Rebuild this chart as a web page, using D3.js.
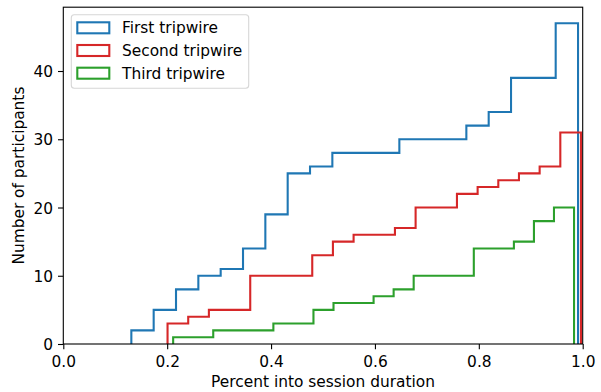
<!DOCTYPE html>
<html>
<head>
<meta charset="utf-8">
<script src="https://cdn.jsdelivr.net/npm/d3@7"></script>
<style>
  html, body { margin: 0; padding: 0; background: #fff; }
  svg { display: block; }
  text { font-family: "DejaVu Sans", sans-serif; fill: #000; }
</style>
</head>
<body>
<svg id="chart" width="601" height="392"></svg>
<script>
// Series names and colours
const seriesNames = ["First tripwire", "Second tripwire", "Third tripwire"];
const seriesColors = ["#1f77b4", "#d62728", "#2ca02c"];

// Each series: 20 equal-width bins between its own min and max, cumulative counts
const firstRange = [0.131, 0.991];
const firstCounts = [2, 5, 8, 10, 11, 14, 19, 25, 26, 28, 28, 28, 30, 30, 30, 32, 34, 39, 39, 47];

const secondRange = [0.2007, 0.9967];
const secondCounts = [3, 4, 5, 5, 10, 10, 10, 13, 15, 16, 16, 17, 20, 20, 22, 23, 24, 25, 26, 31];

const thirdRange = [0.2115, 0.9833];
const thirdCounts = [1, 1, 2, 2, 2, 3, 3, 5, 6, 6, 7, 8, 10, 10, 10, 14, 14, 15, 18, 20];

// Axis ticks
const xTicks = [0.0, 0.2, 0.4, 0.6, 0.8, 1.0];
const yTicks = [0, 10, 20, 30, 40];

const xLabel = "Percent into session duration";
const yLabel = "Number of participants";

const FS = 15.4;
const svg = d3.select("#chart");

const x = d3.scaleLinear().domain([0, 1]).range([63.3, 582.7]);
const yMax = d3.max([firstCounts, secondCounts, thirdCounts].flat()) * 1.05;
const y = d3.scaleLinear().domain([0, yMax]).range([344, 7.2]);

const series = [
  { name: seriesNames[0], color: seriesColors[0], range: firstRange, counts: firstCounts },
  { name: seriesNames[1], color: seriesColors[1], range: secondRange, counts: secondCounts },
  { name: seriesNames[2], color: seriesColors[2], range: thirdRange, counts: thirdCounts }
];

function stepPoints(s) {
  const n = s.counts.length;
  const w = (s.range[1] - s.range[0]) / n;
  const pts = [[s.range[0], 0]];
  s.counts.forEach((c, i) => {
    pts.push([s.range[0] + i * w, c]);
    pts.push([s.range[0] + (i + 1) * w, c]);
  });
  pts.push([s.range[1], 0]);
  return pts;
}

const line = d3.line().x(d => x(d[0])).y(d => y(d[1]));

const plot = svg.append("g");
plot.append("defs").append("clipPath").attr("id", "clip")
  .append("rect").attr("x", x(0)).attr("y", y(yMax))
  .attr("width", x(1) - x(0)).attr("height", y(0) - y(yMax));

plot.selectAll("path.series").data(series).enter().append("path")
  .attr("class", "series")
  .attr("d", s => line(stepPoints(s)))
  .attr("fill", "none")
  .attr("stroke", s => s.color)
  .attr("stroke-width", 2.1)
  .attr("stroke-linejoin", "miter")
  .attr("clip-path", "url(#clip)");

// Axes
const xAxis = svg.append("g").attr("transform", `translate(0,${y(0)})`)
  .call(d3.axisBottom(x).tickValues(xTicks).tickFormat(d3.format(".1f")).tickSize(5.3).tickPadding(6));
const yAxis = svg.append("g").attr("transform", `translate(${x(0)},0)`)
  .call(d3.axisLeft(y).tickValues(yTicks).tickFormat(d3.format("d")).tickSize(5.3).tickPadding(5));

[xAxis, yAxis].forEach(g => {
  g.select(".domain").remove();
  g.selectAll(".tick line").attr("stroke", "#000").attr("stroke-width", 1.1);
  g.selectAll(".tick text").attr("font-size", FS).attr("font-family", "DejaVu Sans").attr("fill", "#000");
});
xAxis.selectAll(".tick text").attr("dy", null).attr("y", 22.5);
yAxis.selectAll(".tick text").attr("dy", "0.36em");

// Spines
const spines = svg.append("g").attr("fill", "none").attr("stroke", "#000").attr("stroke-width", 1.1);
spines.append("rect")
  .attr("x", x(0)).attr("y", y(yMax))
  .attr("width", x(1) - x(0)).attr("height", y(0) - y(yMax));

// Axis labels
svg.append("text")
  .attr("x", (x(0) + x(1)) / 2).attr("y", 387.3)
  .attr("text-anchor", "middle").attr("font-size", FS)
  .text(xLabel);
svg.append("text")
  .attr("transform", `translate(23.5,${(y(0) + y(yMax)) / 2}) rotate(-90)`)
  .attr("text-anchor", "middle").attr("font-size", FS)
  .text(yLabel);

// Legend
const legend = svg.append("g");
legend.append("rect")
  .attr("x", 71.3).attr("y", 14.7).attr("width", 177.4).attr("height", 73.6)
  .attr("rx", 3).attr("ry", 3)
  .attr("fill", "#fff").attr("fill-opacity", 0.8)
  .attr("stroke", "#d6d6d6").attr("stroke-width", 1.1);
const rows = legend.selectAll("g.row").data(series).enter().append("g")
  .attr("class", "row")
  .attr("transform", (d, i) => `translate(0,${i * 22.7})`);
rows.append("rect")
  .attr("x", 77.3).attr("y", 22.3).attr("width", 32).attr("height", 11)
  .attr("fill", "none").attr("stroke", d => d.color).attr("stroke-width", 2.1);
rows.append("text")
  .attr("x", 122).attr("y", 33.3).attr("font-size", FS)
  .text(d => d.name);
</script>
</body>
</html>
